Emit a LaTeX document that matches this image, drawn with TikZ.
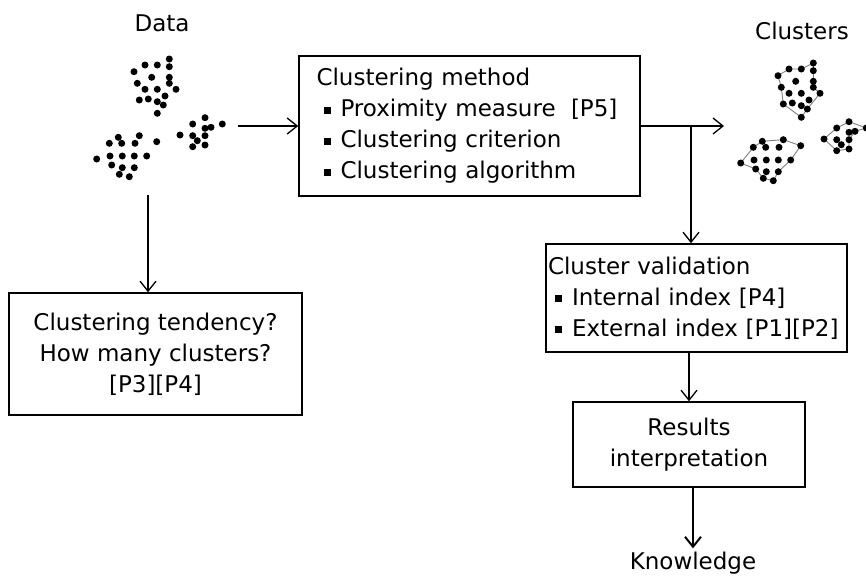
\documentclass[tikz,border=0pt]{standalone}
\usepackage{fontspec}
\setmainfont{DejaVu Sans}
\usetikzlibrary{arrows.meta,positioning}

\newcommand{\sqbullet}{\hspace*{7pt}\rule[3pt]{7pt}{7pt}\hspace{10pt}}

\tikzset{
  box/.style={draw, line width=1.6pt, rectangle, inner sep=0pt},
  flow/.style={line width=1.3pt, -{Straight Barb[length=10pt,width=16pt]}},
  hull/.style={draw=gray, line width=0.9pt},
  every node/.style={font=\fontsize{23}{31}\selectfont},
}

\begin{document}
\begin{tikzpicture}[x=1pt,y=-1pt]
	\useasboundingbox (0,0) rectangle (866,576);

	% labels
	\node (data) at (162,23) {Data};
	\node (clusters) at (802,31) {Clusters};
	\node (knowledge) at (693,563) {Knowledge};

	% boxes
	\node[box, text width=306pt, inner xsep=17.5pt, minimum height=140pt, align=left] (method) at (469.5,126)
	  {Clustering method\\
	   \sqbullet Proximity measure~~[P5]\\
	   \sqbullet Clustering criterion\\
	   \sqbullet Clustering algorithm};
	\node[box, text width=297pt, inner xsep=2pt, minimum height=108pt, align=left] (valid) at (696.5,298)
	  {Cluster validation\\
	   \sqbullet Internal index [P4]\\
	   \sqbullet External index [P1][P2]};
	\node[box, minimum width=232pt, minimum height=85pt, align=center] (results) at (689,444.5)
	  {Results\\ interpretation};
	\node[box, minimum width=293pt, minimum height=122pt, align=center] (tendency) at (155.5,354)
	  {Clustering tendency?\\ How many clusters?\\ {[P3][P4]}};

	\coordinate (dataout) at (238,126);
	\coordinate (datadown) at (148,195);
	\coordinate (clout) at (724,126);
	\coordinate (split) at (691,126);

	% \draw arrows
	\draw[flow] (dataout) -- (method.west);
	\draw[flow] (datadown) -- (datadown |- tendency.north);
	\draw[flow] (method.east) -- (clout);
	\draw[flow] (split) -- (split |- valid.north);
	\draw[flow] (valid.south -| results.north) -- (results.north);
	\draw[flow, line width=2pt] (results.south -| knowledge.north) -- (knowledge.north);

	\def\points{{%
	{169.3,59},{145,65},{157.3,65},{169.3,66.7},{134,71.7},
	{151.7,77.3},{169.3,77.3},{137.3,83.3},{169.3,83.3},
	{145,89.3},{157.3,89.3},{176,89.3},{165,96},
	{139.3,100},{148.3,99},{157.3,101.7},{163.3,105},{157.3,113.3},
	%
	{205,117.7},{192.7,124},{222.3,124},{205,128.3},{211,127.3},
	{180,135},{192.7,135.7},{205,135.7},{197.3,140.7},
	{192.7,146.7},{205,145},
	%
	{139.3,135.7},{118.3,137.3},{109.3,143.3},{121.7,143.3},
	{135,143.3},{156.7,141.7},{96.7,159},{110,156},{122.3,156},
	{134.3,156},{146.7,156},{111.7,165},{122.3,167.7},
	{134.3,167.7},{119.3,174.3},{129.3,176.7},
	}}

	% \coordinate data and cluster points
	\foreach \i in {0,...,44} {
	  \pgfmathparse{\points[\i][0]}\let \x \pgfmathresult;
	  \pgfmathparse{\points[\i][1]}\let \y \pgfmathresult;
	  \coordinate (p\i) at (\x,\y);
	  \coordinate (q\i) at ([shift={(644,4)}] \x,\y);
	}

	% \draw cluster hulls
	\draw[hull] (q4) \foreach \j in {1,2,0,3,6,8,11,16,17,13,7} {-- (q\j)} -- cycle;
	\draw[hull] (q23) \foreach \j in {19,18,20,22,25,28,27} {-- (q\j)} -- cycle;
	\draw[hull] (q35) \foreach \j in {31,30,29,34,39,42,44,43,40} {-- (q\j)} -- cycle;

	% \draw dots
	\foreach \i in {0,...,44} {
	  \fill[black] (p\i) circle (3.5pt);
	  \fill[black] (q\i) circle (3.5pt);
	}
\end{tikzpicture}
\end{document}
